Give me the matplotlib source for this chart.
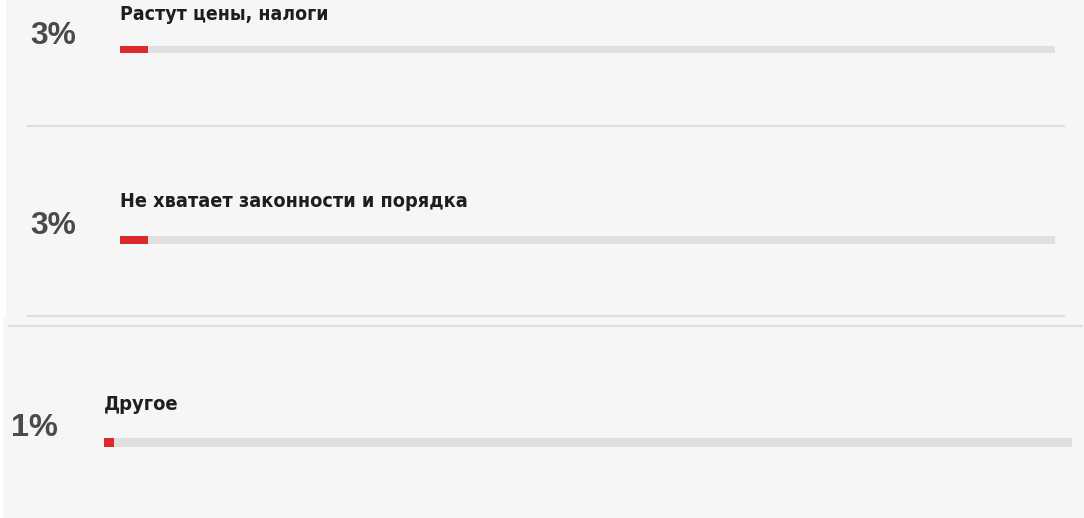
import matplotlib
matplotlib.use("Agg")
import matplotlib.pyplot as plt
from matplotlib import font_manager
from matplotlib.lines import Line2D
from matplotlib.patches import Rectangle

# ── Données ──────────────────────────────────────────────────────────────
labels = ["Растут цены, налоги", "Не хватает законности и порядка", "Другое"]
values = [3, 3, 1]
pct_labels = ["3%", "3%", "1%"]

W, H = 1084, 518
BG = "#f6f6f6"
TRACK = "#e0e0e0"
RED = "#dc2a2c"
SEP = "#dedede"

# police étroite si disponible (le site utilise une police « narrow »)
names = {f.name for f in font_manager.fontManager.ttflist}
narrow = None
for cand in ("Liberation Sans Narrow", "Arial Narrow", "DejaVu Sans Condensed"):
    if cand in names:
        narrow = cand
        break
if narrow is None:
    for f in font_manager.fontManager.ttflist:
        n = (f.fname + " " + f.name).lower()
        if "narrow" in n or "condensed" in n:
            narrow = f.name
            break
LABEL_FAMILY = ([narrow] if narrow else []) + ["Liberation Sans", "DejaVu Sans"]

fig = plt.figure(figsize=(W / 100, H / 100), dpi=100)
fig.patch.set_facecolor(BG)


def fx(x):
    return x / W


def fy(y):
    return 1 - y / H


# bandes blanches à gauche (collage de captures)
fig.add_artist(Rectangle((0, fy(317)), fx(6), 317 / H, transform=fig.transFigure,
                         facecolor="white", edgecolor="none", zorder=0))
fig.add_artist(Rectangle((0, 0), fx(3), fy(317), transform=fig.transFigure,
                         facecolor="white", edgecolor="none", zorder=0))

# séparateurs
for x0, x1, y in [(28, 1064, 125.5), (28, 1064, 315.5), (9, 1082, 325.5)]:
    fig.add_artist(Line2D([fx(x0), fx(x1)], [fy(y), fy(y)], transform=fig.transFigure,
                          color=SEP, lw=1.5))

# mise en page : piste (x0, x1, y0, y1), pct (x, y centre, largeur), libellé (x, ligne de base, largeur)
rows = [
    dict(track=(120, 1055, 46, 53), pct=(30, 36.5, 46), lab=(120, 20, 208)),
    dict(track=(120, 1055, 236, 244), pct=(30, 225.5, 46), lab=(120, 207, 348)),
    dict(track=(104, 1072, 438, 447), pct=(11, 427.5, 47), lab=(104, 410, 75)),
]

renderer = fig.canvas.get_renderer()


def fit(t, width_px):
    w = t.get_window_extent(renderer).width
    t.set_fontsize(t.get_fontsize() * width_px / w)


for lab, val, pl, r in zip(labels, values, pct_labels, rows):
    x0, x1, y0, y1 = r["track"]
    ax = fig.add_axes([fx(x0), fy(y1), fx(x1 - x0), (y1 - y0) / H])
    ax.set_xlim(0, 100)
    ax.set_ylim(-0.5, 0.5)
    ax.barh(0, 100, height=1, color=TRACK)
    ax.barh(0, val, height=1, color=RED)
    ax.axis("off")

    px, py, pw = r["pct"]
    t = fig.text(fx(px), fy(py), pl, ha="left", va="center", fontsize=23,
                 fontweight="bold", color="#4a4a4a", family=["Liberation Sans", "DejaVu Sans"])
    fit(t, pw)

    lx, ly, lw = r["lab"]
    t = fig.text(fx(lx), fy(ly), lab, ha="left", va="baseline", fontsize=15,
                 fontweight="bold", fontstretch="condensed", color="#1e1e1e",
                 family=LABEL_FAMILY)
    fit(t, lw)

fig.savefig("out.png", dpi=100, facecolor=BG)
